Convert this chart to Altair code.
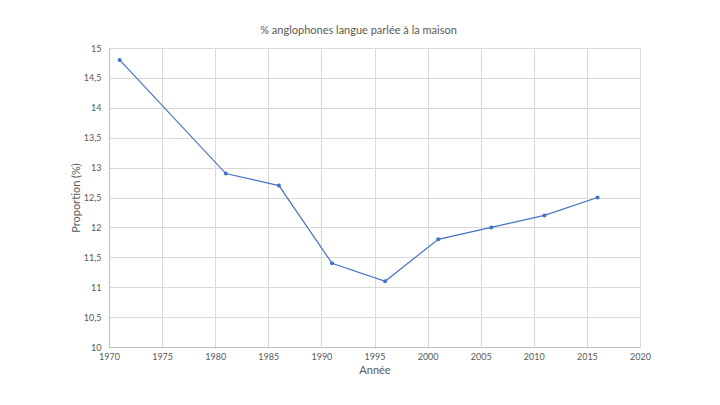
import altair as alt
import pandas as pd

years = [1971, 1981, 1986, 1991, 1996, 2001, 2006, 2011, 2016]
values = [14.8, 12.9, 12.7, 11.4, 11.1, 11.8, 12.0, 12.2, 12.5]
x_ticks = [1970, 1975, 1980, 1985, 1990, 1995, 2000, 2005, 2010, 2015, 2020]
y_ticks = [10, 10.5, 11, 11.5, 12, 12.5, 13, 13.5, 14, 14.5, 15]

df = pd.DataFrame({"Année": years, "Proportion": values})

FONT = "Lato"
GRAY = "#595959"
GRID = "#d9d9d9"

base = alt.Chart(df).encode(
    x=alt.X("Année:Q",
            scale=alt.Scale(domain=[1970, 2020], nice=False, zero=False),
            axis=alt.Axis(values=x_ticks, format="d", title="Année",
                          labelFont=FONT, labelFontSize=9, labelColor=GRAY,
                          titleFont=FONT, titleFontSize=11, titleColor=GRAY,
                          titleFontWeight="normal", titlePadding=3,
                          labelPadding=5, ticks=False, domainColor="#bfbfbf",
                          gridColor=GRID, labelFlush=False)),
    y=alt.Y("Proportion:Q",
            scale=alt.Scale(domain=[10, 15], nice=False, zero=False),
            axis=alt.Axis(values=y_ticks, title="Proportion (%)",
                          labelExpr="replace(format(datum.value, '.1~f'), '.', ',')",
                          labelFont=FONT, labelFontSize=9, labelColor=GRAY,
                          titleFont=FONT, titleFontSize=11, titleColor=GRAY,
                          titleFontWeight="normal", titlePadding=2,
                          labelPadding=8, ticks=False, domainColor="#bfbfbf",
                          gridColor=GRID, labelFlush=False)),
)

line = base.mark_line(color="#4472C4", strokeWidth=1.2)
pts = base.mark_circle(color="#4472C4", size=16, opacity=1)

chart = (line + pts).properties(
    width=531, height=299,
    autosize=alt.AutoSizeParams(type="none"),
    padding={"left": 101, "top": 40, "right": 60, "bottom": 50},
    title=alt.TitleParams("% anglophones langue parlée à la maison",
                          font=FONT, fontSize=11, color=GRAY,
                          fontWeight="normal", anchor="middle", dx=-16, offset=8),
).configure_view(stroke=None).configure(background="white")

chart.save("out.html", embed_options={"renderer": "svg", "actions": False})
